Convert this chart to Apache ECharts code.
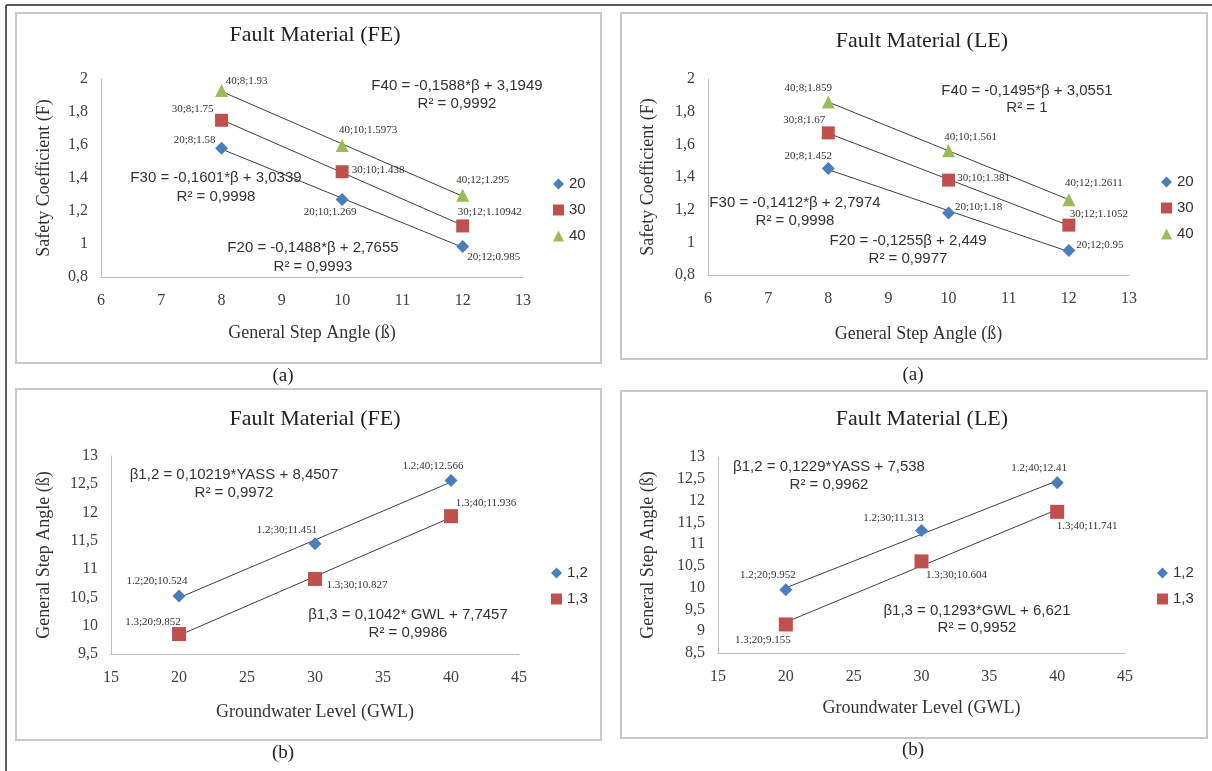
<!DOCTYPE html>
<html>
<head>
<meta charset="utf-8">
<script src="https://cdn.jsdelivr.net/npm/echarts@6/dist/echarts.min.js"></script>
<style>
html,body{margin:0;padding:0;background:#fff;}
#chart{width:1212px;height:771px;}
</style>
</head>
<body>
<div id="chart"></div>
<script>
// ---------------- DATA ----------------
const stepAngles = [8, 10, 12];
const safetyNames = ['20', '30', '40'];
const feF20 = [1.58, 1.269, 0.985];
const feF30 = [1.75, 1.438, 1.10942];
const feF40 = [1.93, 1.5973, 1.295];
const leF20 = [1.452, 1.18, 0.95];
const leF30 = [1.67, 1.381, 1.1052];
const leF40 = [1.859, 1.561, 1.2611];

const gwlLevels = [20, 30, 40];
const betaNames = ['1,2', '1,3'];
const betaKeys = ['1.2', '1.3'];
const feB12 = [10.524, 11.451, 12.566];
const feB13 = [9.852, 10.827, 11.936];
const leB12 = [9.952, 11.313, 12.41];
const leB13 = [9.155, 10.604, 11.741];

// trendline coefficients [slope, intercept] as printed on the chart
const feTrend20 = [-0.1488, 2.7655];
const feTrend30 = [-0.1601, 3.0339];
const feTrend40 = [-0.1588, 3.1949];
const leTrend20 = [-0.1255, 2.449];
const leTrend30 = [-0.1412, 2.7974];
const leTrend40 = [-0.1495, 3.0551];
const feTrend12 = [0.10219, 8.4507];
const feTrend13 = [0.1042, 7.7457];
const leTrend12 = [0.1229, 7.538];
const leTrend13 = [0.1293, 6.621];

const titles = ['Fault Material (FE)', 'Fault Material (LE)', 'Fault Material (FE)', 'Fault Material (LE)'];
const captions = ['(a)', '(a)', '(b)', '(b)'];
const xNames = ['General Step Angle (ß)', 'General Step Angle (ß)', 'Groundwater Level (GWL)', 'Groundwater Level (GWL)'];
const yNames = ['Safety Coefficient (F)', 'Safety Coefficient (F)', 'General Step Angle (ß)', 'General Step Angle (ß)'];
const equations = [
  ['F40 = -0,1588*β + 3,1949', 'R² = 0,9992', 'F30 = -0,1601*β + 3,0339', 'R² = 0,9998', 'F20 = -0,1488*β + 2,7655', 'R² = 0,9993'],
  ['F40 = -0,1495*β + 3,0551', 'R² = 1', 'F30 = -0,1412*β + 2,7974', 'R² = 0,9998', 'F20 = -0,1255β + 2,449', 'R² = 0,9977'],
  ['β1,2 = 0,10219*YASS + 8,4507', 'R² = 0,9972', 'β1,3 = 0,1042* GWL + 7,7457', 'R² = 0,9986'],
  ['β1,2 = 0,1229*YASS + 7,538', 'R² = 0,9962', 'β1,3 = 0,1293*GWL + 6,621', 'R² = 0,9952']
];

// ---------------- STYLE / LAYOUT ----------------
const SERIF = '"Liberation Serif", "Times New Roman", serif';
const SANS = '"Liberation Sans", Arial, sans-serif';
const BLUE = '#4a7ebb', RED = '#c0504d', GREEN = '#9bbb59';
const symbolStyles = {
  '20': {symbol: 'diamond', size: 13, color: BLUE},
  '30': {symbol: 'rect', size: 13, color: RED},
  '40': {symbol: 'triangle', size: 13, color: GREEN},
  '1,2': {symbol: 'diamond', size: 13, color: BLUE},
  '1,3': {symbol: 'rect', size: 14, color: RED}
};

const grids = [
  {left: 101, top: 79, width: 422, height: 198},
  {left: 708, top: 79, width: 421, height: 196},
  {left: 111, top: 456, width: 408, height: 198},
  {left: 718, top: 457, width: 407, height: 196}
];
const axisRanges = [
  {x: [6, 13, 1], y: [0.8, 2, 0.2]},
  {x: [6, 13, 1], y: [0.8, 2, 0.2]},
  {x: [15, 45, 5], y: [9.5, 13, 0.5]},
  {x: [15, 45, 5], y: [8.5, 13, 0.5]}
];
const xNameGaps = [47, 50, 49, 46];
const yNameGaps = [48, 51, 58, 61];
const titlePos = [[310, 19], [917, 25], [310, 403], [917, 403]];
const captionPos = [[283, 376], [913, 375], [283, 753], [913, 750]];
const legendPos = [[553, 176], [1161, 174], [551, 565], [1157, 565]];
const panels = [[16, 13, 585, 350], [621, 13, 586, 346], [16, 389, 585, 351], [621, 391, 586, 347]];
const eqPos = [
  [[457, 86], [457, 104], [216, 178], [216, 197], [313, 248], [313, 267]],
  [[1027, 91], [1027, 108], [795, 203], [795, 221], [908, 241], [908, 259]],
  [[234, 475], [234, 493], [408, 615], [408, 633]],
  [[829, 467], [829, 485], [977, 611], [977, 628]]
];
// label offsets (px) relative to each point
const labelOffsets = {
  fe20: [[-27, -8], [-12, 12], [31, 11]],
  fe30: [[-29, -11], [36, -2], [27, -14]],
  fe40: [[25, -9], [26, -15], [20, -15]],
  le20: [[-20, -12], [30, -6], [31, -5]],
  le30: [[-24, -13], [35, -2], [30, -11]],
  le40: [[-20, -14], [22, -14], [25, -17]],
  fe12: [[-22, -15], [-28, -14], [-18, -14]],
  fe13: [[-26, -12], [42, 6], [35, -13]],
  le12: [[-18, -15], [-28, -12], [-18, -15]],
  le13: [[-23, 16], [35, 14], [30, 14]]
};

// ---------------- BUILD ----------------
const series = [];
function addSet(gi, name, key, xs, ys, trend, offs) {
  const st = symbolStyles[name];
  series.push({
    type: 'line', name: 'trend-' + gi + '-' + name,
    xAxisIndex: gi, yAxisIndex: gi,
    data: [[xs[0], trend[0] * xs[0] + trend[1]], [xs[xs.length - 1], trend[0] * xs[xs.length - 1] + trend[1]]],
    symbol: 'none', lineStyle: {color: '#404040', width: 1}, silent: true, z: 2
  });
  series.push({
    type: 'scatter', name: name,
    xAxisIndex: gi, yAxisIndex: gi,
    symbol: st.symbol, symbolSize: st.size,
    itemStyle: {color: st.color, opacity: 1},
    z: 3,
    label: {
      show: true, position: 'inside', color: '#333', fontFamily: SERIF, fontSize: 11,
      formatter: p => key + ';' + p.value[0] + ';' + p.value[1]
    },
    data: xs.map((x, i) => ({value: [x, ys[i]], label: {offset: offs[i]}}))
  });
}
addSet(0, '20', '20', stepAngles, feF20, feTrend20, labelOffsets.fe20);
addSet(0, '30', '30', stepAngles, feF30, feTrend30, labelOffsets.fe30);
addSet(0, '40', '40', stepAngles, feF40, feTrend40, labelOffsets.fe40);
addSet(1, '20', '20', stepAngles, leF20, leTrend20, labelOffsets.le20);
addSet(1, '30', '30', stepAngles, leF30, leTrend30, labelOffsets.le30);
addSet(1, '40', '40', stepAngles, leF40, leTrend40, labelOffsets.le40);
addSet(2, '1,2', betaKeys[0], gwlLevels, feB12, feTrend12, labelOffsets.fe12);
addSet(2, '1,3', betaKeys[1], gwlLevels, feB13, feTrend13, labelOffsets.fe13);
addSet(3, '1,2', betaKeys[0], gwlLevels, leB12, leTrend12, labelOffsets.le12);
addSet(3, '1,3', betaKeys[1], gwlLevels, leB13, leTrend13, labelOffsets.le13);

const fmt = v => String(+v.toFixed(2)).replace('.', ',');
const xAxes = axisRanges.map((r, i) => ({
  type: 'value', gridIndex: i, min: r.x[0], max: r.x[1], interval: r.x[2],
  axisLine: {show: true, onZero: false, lineStyle: {color: '#bfbfbf', width: 1}},
  axisTick: {show: false}, splitLine: {show: false},
  axisLabel: {color: '#404040', fontFamily: SERIF, fontSize: 16, margin: 16, formatter: fmt},
  name: xNames[i], nameLocation: 'middle', nameGap: xNameGaps[i],
  nameTextStyle: {color: '#333', fontFamily: SERIF, fontSize: 18}
}));
const yAxes = axisRanges.map((r, i) => ({
  type: 'value', gridIndex: i, min: r.y[0], max: r.y[1], interval: r.y[2],
  axisLine: {show: true, onZero: false, lineStyle: {color: '#bfbfbf', width: 1}},
  axisTick: {show: false}, splitLine: {show: false},
  axisLabel: {color: '#404040', fontFamily: SERIF, fontSize: 16, margin: 13, formatter: fmt},
  name: yNames[i], nameLocation: 'middle', nameGap: yNameGaps[i],
  nameTextStyle: {color: '#333', fontFamily: SERIF, fontSize: 18}
}));

const graphic = [];
// outer frame
graphic.push({type: 'line', shape: {x1: 6, y1: 5, x2: 1212, y2: 5}, style: {stroke: '#5a5a5a', lineWidth: 2}});
graphic.push({type: 'line', shape: {x1: 6, y1: 5, x2: 6, y2: 771}, style: {stroke: '#5a5a5a', lineWidth: 2}});
panels.forEach(p => {
  graphic.push({type: 'rect', shape: {x: p[0], y: p[1], width: p[2], height: p[3]},
    style: {fill: 'none', stroke: '#c8c8c8', lineWidth: 2}, z: -1});
});
captions.forEach((c, i) => {
  graphic.push({type: 'text', x: captionPos[i][0], y: captionPos[i][1],
    style: {text: c, fontFamily: SERIF, fontSize: 19, fill: '#222', textAlign: 'center', textVerticalAlign: 'middle'}});
});
equations.forEach((eqs, i) => {
  eqs.forEach((t, j) => {
    graphic.push({type: 'text', x: eqPos[i][j][0], y: eqPos[i][j][1], z: 10,
      style: {text: t, fontFamily: SANS, fontSize: 15, fill: '#333', textAlign: 'center', textVerticalAlign: 'middle'}});
  });
});

const option = {
  animation: false,
  backgroundColor: '#fff',
  title: titles.map((t, i) => ({
    text: t, left: titlePos[i][0], top: titlePos[i][1], textAlign: 'center',
    textStyle: {fontFamily: SERIF, fontSize: 22, fontWeight: 'normal', color: '#222'}
  })),
  legend: [
    {data: safetyNames, left: legendPos[0][0], top: legendPos[0][1]},
    {data: safetyNames, left: legendPos[1][0], top: legendPos[1][1]},
    {data: betaNames, left: legendPos[2][0], top: legendPos[2][1]},
    {data: betaNames, left: legendPos[3][0], top: legendPos[3][1]}
  ].map(l => Object.assign(l, {
    orient: 'vertical', itemWidth: 11, itemHeight: 11, itemGap: 10, selectedMode: false,
    textStyle: {fontFamily: SANS, fontSize: 15, color: '#333', lineHeight: 16}, padding: 0
  })),
  grid: grids,
  xAxis: xAxes,
  yAxis: yAxes,
  series: series,
  graphic: graphic
};

const chart = echarts.init(document.getElementById('chart'), null, {renderer: 'canvas'});
chart.setOption(option);
</script>
</body>
</html>
